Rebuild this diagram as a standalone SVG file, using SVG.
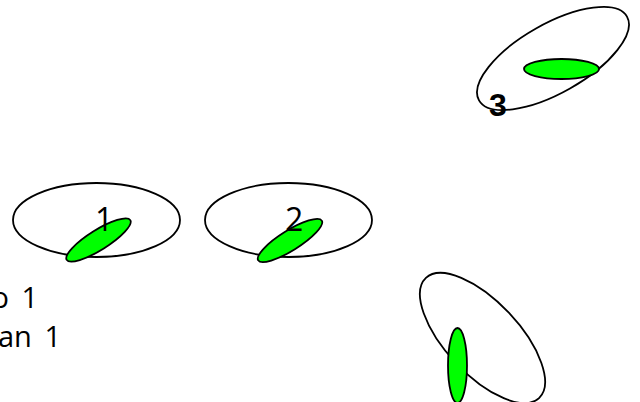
<svg xmlns="http://www.w3.org/2000/svg" width="640" height="402" viewBox="0 0 640 402">
<style>
.outer{fill:none;stroke:#000;stroke-width:1.8}
.inner{fill:#00ff00;stroke:#000;stroke-width:1.8}
.lbl{font-family:"Open Sans","Noto Sans",sans-serif;font-size:32px;fill:#000}
.leg{font-family:"Open Sans","Noto Sans",sans-serif;font-size:29px;fill:#000;word-spacing:5px}
.bold{font-family:"Liberation Sans",Arial,sans-serif;font-size:32px;font-weight:bold;fill:#000}
</style>
<rect width="640" height="402" fill="#fff"/>
<g id="node1">
<ellipse class="outer" cx="96.5" cy="220" rx="83.5" ry="37"/>
<ellipse class="inner" cx="98.5" cy="240" rx="37.5" ry="10" transform="rotate(-32 98.5 240)"/>
<text class="lbl" x="95" y="231">1</text>
</g>
<g id="node2">
<ellipse class="outer" cx="288.5" cy="220" rx="83.5" ry="37"/>
<ellipse class="inner" cx="290" cy="240.5" rx="37.5" ry="10" transform="rotate(-32 290 240.5)"/>
<text class="lbl" x="285" y="231">2</text>
</g>
<g id="node3">
<ellipse class="outer" cx="553" cy="58.5" rx="85" ry="34.5" transform="rotate(-29.5 553 58.5)"/>
<ellipse class="inner" cx="561.5" cy="69" rx="37.5" ry="10"/>
<text class="bold" x="489" y="116">3</text>
</g>
<g id="node4">
<ellipse class="outer" cx="482.5" cy="338" rx="82.5" ry="36.5" transform="rotate(46.7 482.5 338)"/>
<ellipse class="inner" cx="457.5" cy="365.5" rx="9.5" ry="37.5"/>
</g>
<g id="legend">
<text class="leg" x="38" y="308" text-anchor="end">o 1</text>
<text class="leg" x="61" y="347" text-anchor="end">an 1</text>
</g>
</svg>
